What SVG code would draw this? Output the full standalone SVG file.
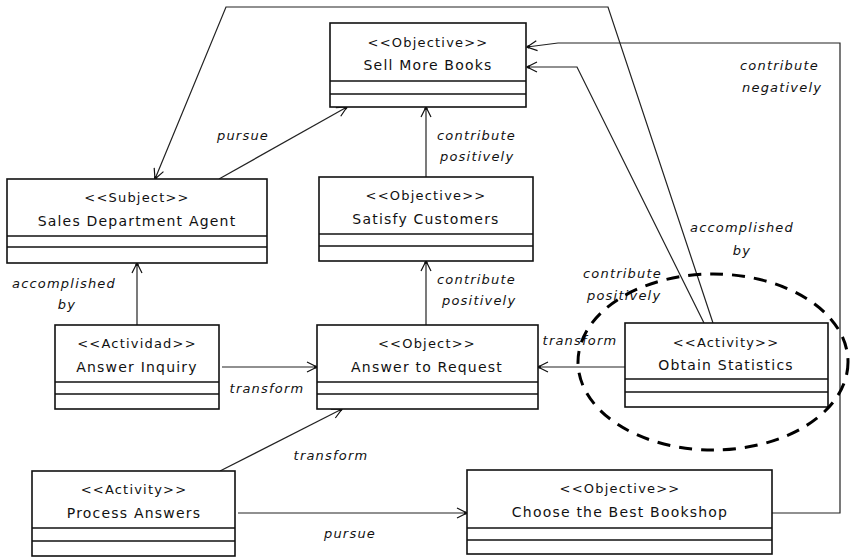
<svg xmlns="http://www.w3.org/2000/svg" width="850" height="557" viewBox="0 0 850 557">
  <defs>
    <marker id="open-arrow" viewBox="-12 -7 14 14" refX="0" refY="0" markerWidth="14" markerHeight="14" markerUnits="userSpaceOnUse" orient="auto">
      <path d="M-10,-5 L0,0 L-10,5" fill="none" stroke="#111" stroke-width="1.2"/>
      <circle cx="-1.5" cy="0" r="1.6" fill="#111"/>
    </marker>
  </defs>
  <style>
    .box { fill: #fff; stroke: #111; stroke-width: 1.6; }
    .div { stroke: #111; stroke-width: 1.6; }
    .name { font-family: "DejaVu Sans", sans-serif; font-size: 14px; letter-spacing: 1.2px; fill: #111; text-anchor: middle; }
    .stereo { font-family: "DejaVu Sans", sans-serif; font-size: 13px; letter-spacing: 1.2px; fill: #111; text-anchor: middle; }
    .conn { fill: none; stroke: #222; stroke-width: 1.2; }
    .lbl { font-family: "DejaVu Sans", sans-serif; font-size: 13px; font-style: italic; letter-spacing: 1.2px; fill: #111; }
    .mid { text-anchor: middle; }
  </style>
  <rect width="850" height="557" fill="#fff"/>

  <!-- connectors -->
  <g id="connectors">
    <path class="conn" d="M219,179 L347,107" marker-end="url(#open-arrow)"/>
    <path class="conn" d="M426,177 L426,107" marker-end="url(#open-arrow)"/>
    <path class="conn" d="M713,323 L608,7 L226,7 L155,179" marker-end="url(#open-arrow)"/>
    <path class="conn" d="M704,323 L577,67 L527,67" marker-end="url(#open-arrow)"/>
    <path class="conn" d="M772,513 L840,513 L840,43 L558,43 L527,47" marker-end="url(#open-arrow)"/>
    <path class="conn" d="M137,325 L137,263" marker-end="url(#open-arrow)"/>
    <path class="conn" d="M222,367 L317,367" marker-end="url(#open-arrow)"/>
    <path class="conn" d="M426,325 L426,261" marker-end="url(#open-arrow)"/>
    <path class="conn" d="M625,367 L538,367" marker-end="url(#open-arrow)"/>
    <path class="conn" d="M220,471 L342,409" marker-end="url(#open-arrow)"/>
    <path class="conn" d="M238,513 L467,513" marker-end="url(#open-arrow)"/>

    <text class="lbl mid" x="243" y="140">pursue</text>
    <text class="lbl" x="437" y="140">contribute</text>
    <text class="lbl" x="440" y="161">positively</text>
    <text class="lbl" x="740" y="70">contribute</text>
    <text class="lbl" x="742" y="92">negatively</text>
    <text class="lbl mid" x="742" y="232">accomplished</text>
    <text class="lbl mid" x="742" y="255">by</text>
    <text class="lbl" x="437" y="284">contribute</text>
    <text class="lbl" x="442" y="305">positively</text>
    <text class="lbl" x="583" y="278">contribute</text>
    <text class="lbl" x="587" y="300">positively</text>
    <text class="lbl mid" x="64" y="288">accomplished</text>
    <text class="lbl mid" x="67" y="309">by</text>
    <text class="lbl mid" x="267" y="393">transform</text>
    <text class="lbl mid" x="580" y="345">transform</text>
    <text class="lbl mid" x="331" y="460">transform</text>
    <text class="lbl mid" x="350" y="538">pursue</text>
  </g>

  <!-- nodes -->
  <g id="sell-more-books">
    <rect class="box" x="330" y="23" width="196" height="84"/>
    <line class="div" x1="330" y1="81" x2="526" y2="81"/>
    <line class="div" x1="330" y1="94" x2="526" y2="94"/>
    <text class="stereo" x="428" y="47">&lt;&lt;Objective&gt;&gt;</text>
    <text class="name" x="428" y="70">Sell More Books</text>
  </g>
  <g id="sales-department-agent">
    <rect class="box" x="7" y="179" width="260" height="84"/>
    <line class="div" x1="7" y1="236" x2="267" y2="236"/>
    <line class="div" x1="7" y1="247" x2="267" y2="247"/>
    <text class="stereo" x="137" y="202">&lt;&lt;Subject&gt;&gt;</text>
    <text class="name" x="137" y="226">Sales Department Agent</text>
  </g>
  <g id="satisfy-customers">
    <rect class="box" x="319" y="177" width="214" height="84"/>
    <line class="div" x1="319" y1="234" x2="533" y2="234"/>
    <line class="div" x1="319" y1="246" x2="533" y2="246"/>
    <text class="stereo" x="426" y="200">&lt;&lt;Objective&gt;&gt;</text>
    <text class="name" x="426" y="224">Satisfy Customers</text>
  </g>
  <g id="answer-inquiry">
    <rect class="box" x="55" y="325" width="164" height="84"/>
    <line class="div" x1="55" y1="382" x2="219" y2="382"/>
    <line class="div" x1="55" y1="394" x2="219" y2="394"/>
    <text class="stereo" x="137" y="348">&lt;&lt;Actividad&gt;&gt;</text>
    <text class="name" x="137" y="372">Answer Inquiry</text>
  </g>
  <g id="answer-to-request">
    <rect class="box" x="317" y="325" width="221" height="84"/>
    <line class="div" x1="317" y1="382" x2="538" y2="382"/>
    <line class="div" x1="317" y1="394" x2="538" y2="394"/>
    <text class="stereo" x="427" y="348">&lt;&lt;Object&gt;&gt;</text>
    <text class="name" x="427" y="372">Answer to Request</text>
  </g>
  <g id="obtain-statistics">
    <rect class="box" x="625" y="323" width="203" height="84"/>
    <line class="div" x1="625" y1="379" x2="828" y2="379"/>
    <line class="div" x1="625" y1="392" x2="828" y2="392"/>
    <text class="stereo" x="726" y="347">&lt;&lt;Activity&gt;&gt;</text>
    <text class="name" x="726" y="370">Obtain Statistics</text>
  </g>
  <g id="process-answers">
    <rect class="box" x="32" y="471" width="203" height="85"/>
    <line class="div" x1="32" y1="528" x2="235" y2="528"/>
    <line class="div" x1="32" y1="541" x2="235" y2="541"/>
    <text class="stereo" x="134" y="494">&lt;&lt;Activity&gt;&gt;</text>
    <text class="name" x="134" y="518">Process Answers</text>
  </g>
  <g id="choose-best-bookshop">
    <rect class="box" x="467" y="470" width="305" height="84"/>
    <line class="div" x1="467" y1="528" x2="772" y2="528"/>
    <line class="div" x1="467" y1="540" x2="772" y2="540"/>
    <text class="stereo" x="620" y="493">&lt;&lt;Objective&gt;&gt;</text>
    <text class="name" x="620" y="517">Choose the Best Bookshop</text>
  </g>

  <!-- highlight around the statistics activity -->
  <ellipse id="highlight" cx="713" cy="362" rx="135" ry="88" fill="none" stroke="#000" stroke-width="3" stroke-dasharray="13 9"/>
</svg>
